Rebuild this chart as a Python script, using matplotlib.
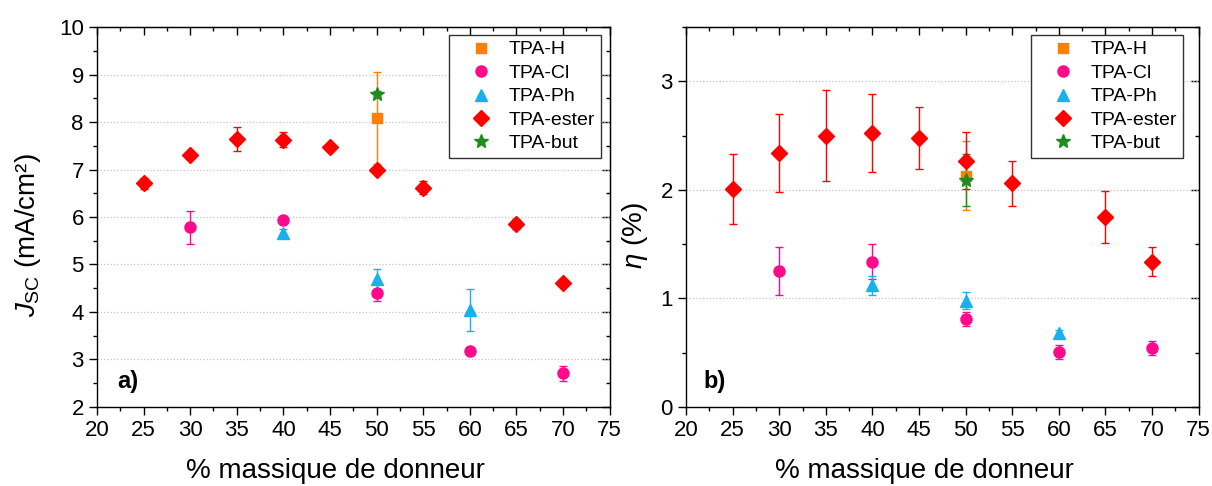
# Jsc et rendement en fonction du % massique de donneur
import matplotlib
matplotlib.use('Agg')
import matplotlib.pyplot as plt
from matplotlib.lines import Line2D
from matplotlib.ticker import MultipleLocator

plt.rcParams['font.family'] = ['Liberation Sans', 'DejaVu Sans']
plt.rcParams['mathtext.fontset'] = 'custom'
plt.rcParams['mathtext.rm'] = 'Liberation Sans'
plt.rcParams['mathtext.it'] = 'Liberation Sans:italic'

# donnees
x_h = [50]
x_cl = [30, 40, 50, 60, 70]
x_ph = [40, 50, 60]
x_ester = [25, 30, 35, 40, 45, 50, 55, 65, 70]
x_but = [50]

jsc_h = [8.08]
jsc_h_err = [0.97]
jsc_cl = [5.78, 5.94, 4.41, 3.18, 2.71]
jsc_cl_err = [0.34, 0.05, 0.17, 0.06, 0.16]
jsc_ph = [5.66, 4.69, 4.04]
jsc_ph_err = [0.08, 0.21, 0.44]
jsc_ester = [6.71, 7.31, 7.64, 7.63, 7.47, 6.98, 6.62, 5.85, 4.62]
jsc_ester_err = [0.11, 0.07, 0.25, 0.16, 0.05, 0.06, 0.13, 0.10, 0.07]
jsc_but = [8.59]
jsc_but_err = [0.07]

eta_h = [2.13]
eta_h_err = [0.32]
eta_cl = [1.25, 1.34, 0.81, 0.51, 0.54]
eta_cl_err = [0.22, 0.16, 0.065, 0.065, 0.065]
eta_ph = [1.12, 0.98, 0.68]
eta_ph_err = [0.09, 0.08, 0.03]
eta_ester = [2.01, 2.34, 2.50, 2.52, 2.475, 2.27, 2.06, 1.75, 1.34]
eta_ester_err = [0.32, 0.36, 0.42, 0.36, 0.285, 0.26, 0.21, 0.24, 0.135]
eta_but = [2.09]
eta_but_err = [0.24]

labels = ['TPA-H', 'TPA-Cl', 'TPA-Ph', 'TPA-ester', 'TPA-but']
colors = ['#FF7F00', '#FF0A8C', '#16B2EE', '#FF0000', '#1E8C1E']
markers = ['s', 'o', '^', 'D', '*']
msizes = [7, 8, 8.5, 8, 10]

fig = plt.figure(figsize=(12.12, 4.86), dpi=100)
ax1 = fig.add_axes([0.080, 0.1626, 0.423, 0.7818])
ax2 = fig.add_axes([0.566, 0.1626, 0.423, 0.7818])


def draw(ax, xs, ys, errs):
    for x, y, e, c, m, ms in zip(xs, ys, errs, colors, markers, msizes):
        ax.errorbar(x, y, yerr=e, fmt=m, color=c, ms=ms, mec=c, ecolor=c,
                    elinewidth=1, capsize=2.7, capthick=1, zorder=3)


def style(ax, ymin, ymax, legx):
    ax.set_xlim(20, 75)
    ax.set_ylim(ymin, ymax)
    ax.xaxis.set_major_locator(MultipleLocator(5))
    ax.xaxis.set_minor_locator(MultipleLocator(2.5))
    ax.yaxis.set_major_locator(MultipleLocator(1))
    ax.yaxis.set_minor_locator(MultipleLocator(0.5))
    ax.tick_params(which='both', direction='out', top=False, right=False,
                   labelsize=16, width=1)
    ax.tick_params(which='major', length=6)
    ax.tick_params(which='minor', length=3)
    ax.grid(axis='y', which='major', ls=':', color='#c4c4c4', lw=0.9)
    for s in ax.spines.values():
        s.set_linewidth(1)
    top = ax.secondary_xaxis('top')
    top.xaxis.set_major_locator(MultipleLocator(5))
    top.xaxis.set_minor_locator(MultipleLocator(2.5))
    top.tick_params(which='both', direction='in', labeltop=False, width=1)
    top.tick_params(which='major', length=6)
    top.tick_params(which='minor', length=3)
    right = ax.secondary_yaxis('right')
    right.yaxis.set_major_locator(MultipleLocator(1))
    right.yaxis.set_minor_locator(MultipleLocator(0.5))
    right.tick_params(which='both', direction='in', labelright=False, width=1)
    right.tick_params(which='major', length=6)
    right.tick_params(which='minor', length=3)
    ax.set_xlabel('% massique de donneur', fontsize=20)
    ax.xaxis.set_label_coords(0.465, -0.134)
    # legende : marqueurs seuls
    handles = [Line2D([], [], ls='none', marker=m, color=c, ms=ms)
               for c, m, ms in zip(colors, markers, msizes)]
    leg = ax.legend(handles, labels, loc='upper left', bbox_to_anchor=(legx, 0.979),
                    borderaxespad=0, fontsize=14, numpoints=1, handlelength=2.7,
                    handletextpad=0.1, labelspacing=0.3, borderpad=0.3,
                    fancybox=False, framealpha=1, edgecolor='#333333')
    leg.get_frame().set_linewidth(1)


draw(ax1, [x_h, x_cl, x_ph, x_ester, x_but],
     [jsc_h, jsc_cl, jsc_ph, jsc_ester, jsc_but],
     [jsc_h_err, jsc_cl_err, jsc_ph_err, jsc_ester_err, jsc_but_err])
draw(ax2, [x_h, x_cl, x_ph, x_ester, x_but],
     [eta_h, eta_cl, eta_ph, eta_ester, eta_but],
     [eta_h_err, eta_cl_err, eta_ph_err, eta_ester_err, eta_but_err])

style(ax1, 2, 10, 0.686)
style(ax2, 0, 3.5, 0.6725)

ax1.set_ylabel(r'$\mathit{J}_{\mathrm{SC}}$ (mA/cm²)', fontsize=20)
ax1.yaxis.set_label_coords(-0.105, 0.453)
ax2.set_ylabel(r'$\mathit{\eta}$ (%)', fontsize=20)
ax2.yaxis.set_label_coords(-0.07, 0.45)

ax1.text(0.04, 0.05, 'a)', transform=ax1.transAxes, fontsize=17, fontweight='bold')
ax2.text(0.035, 0.05, 'b)', transform=ax2.transAxes, fontsize=17, fontweight='bold')

fig.savefig('out.png', dpi=100)
